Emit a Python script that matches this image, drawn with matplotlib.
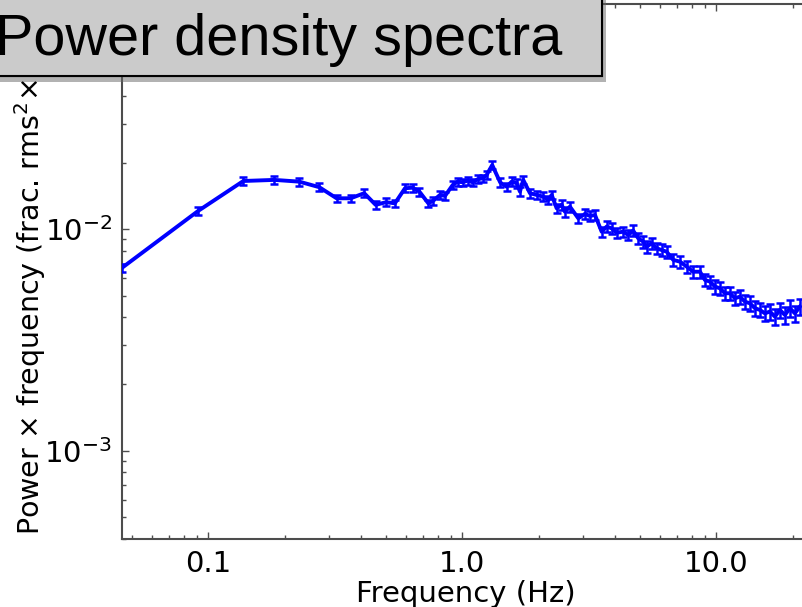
import numpy as np
import matplotlib
matplotlib.use("Agg")
import matplotlib.pyplot as plt
import matplotlib.patheffects as pe
from matplotlib.patches import Rectangle
from matplotlib.ticker import FixedLocator, FormatStrFormatter, NullFormatter

plt.rcParams["font.family"] = ["DejaVu Sans"]
plt.rcParams["axes.unicode_minus"] = False

# ====================== data ======================
freq = [0.0456, 0.0913, 0.1374, 0.182, 0.228, 0.2735, 0.320, 0.3636, 0.411, 0.456,
        0.501, 0.543, 0.595, 0.638, 0.678, 0.735, 0.769, 0.817, 0.855, 0.917,
        0.959, 1.004, 1.050, 1.099, 1.150, 1.203, 1.247, 1.312, 1.411, 1.496,
        1.565, 1.637, 1.687, 1.738, 1.847, 1.963, 2.084, 2.182, 2.249, 2.353,
        2.462, 2.536, 2.654, 2.862, 3.041, 3.184, 3.331, 3.539, 3.703, 3.874,
        4.055, 4.305, 4.504, 4.71, 4.93, 5.16, 5.32, 5.57, 5.82, 6.09,
        6.38, 6.77, 7.20, 7.65, 8.11, 8.63, 9.03, 9.45, 9.89, 10.34,
        10.82, 11.32, 11.85, 12.40, 12.97, 13.57, 14.20, 14.86, 15.55, 16.27,
        17.02, 17.81, 18.64, 19.50, 20.40, 21.35]

power = [0.00668, 0.01211, 0.01652, 0.01671, 0.01641, 0.01549, 0.01380, 0.01380, 0.01455, 0.01289,
         0.01325, 0.01310, 0.01532, 0.01541, 0.01479, 0.01310, 0.01346, 0.01429, 0.01414, 0.01585,
         0.01641, 0.01630, 0.01659, 0.01630, 0.01683, 0.01699, 0.01758, 0.01950, 0.01626, 0.01556,
         0.01641, 0.01615, 0.01479, 0.01671, 0.01455, 0.01429, 0.01404, 0.01355, 0.01429, 0.01244,
         0.01289, 0.01200, 0.01265, 0.01121, 0.01173, 0.01148, 0.01160, 0.00975, 0.01028, 0.01010,
         0.00965, 0.00975, 0.00942, 0.00986, 0.00910, 0.00879, 0.00834, 0.00865, 0.00821, 0.00806,
         0.00792, 0.00727, 0.00714, 0.00678, 0.00643, 0.00643, 0.00590, 0.00580, 0.00551, 0.00541,
         0.00514, 0.00514, 0.00488, 0.00496, 0.00471, 0.00463, 0.00440, 0.00432, 0.00417, 0.00425,
         0.00403, 0.00432, 0.00410, 0.00440, 0.00417, 0.00447]

# relative 1-sigma errors
err_frac = [0.04, 0.04, 0.04, 0.04, 0.04, 0.04, 0.04, 0.04, 0.04, 0.04,
            0.04, 0.04, 0.04, 0.04, 0.04, 0.04, 0.04, 0.04, 0.04, 0.04,
            0.04, 0.04, 0.04, 0.04, 0.04, 0.04, 0.04, 0.045, 0.045, 0.045,
            0.045, 0.045, 0.045, 0.045, 0.045, 0.045, 0.045, 0.045, 0.045, 0.045,
            0.05, 0.05, 0.05, 0.05, 0.05, 0.05, 0.05, 0.055, 0.055, 0.055,
            0.055, 0.055, 0.055, 0.055, 0.055, 0.06, 0.06, 0.06, 0.06, 0.06,
            0.06, 0.065, 0.065, 0.065, 0.065, 0.065, 0.065, 0.065, 0.07, 0.07,
            0.07, 0.07, 0.07, 0.075, 0.075, 0.075, 0.075, 0.075, 0.08, 0.08,
            0.08, 0.08, 0.085, 0.085, 0.085, 0.085]

x_ticks = [0.1, 1.0, 10.0]
y_ticks = [1e-3, 1e-2]
title_text = "Power density spectra"
xlabel_text = "Frequency (Hz)"
ylabel_text = r"Power $\times$ frequency (frac. rms$^2$$\times$ Hz)"

# ====================== figure ======================
W, H = 802, 607
fig = plt.figure(figsize=(W / 100, H / 100), dpi=100)
ax = fig.add_axes([121.7 / W, 1 - 539 / H, 688.3 / W, 535 / H])

f = np.array(freq)
p = np.array(power)
ax.errorbar(f, p, yerr=p * np.array(err_frac), color="blue", lw=2.8,
            elinewidth=1.8, capsize=2.6, capthick=1.8, zorder=3)

ax.set_xscale("log")
ax.set_yscale("log")
ax.set_xlim(0.0456, 23.4)
ax.set_ylim(3.99e-4, 0.1041)

ax.xaxis.set_major_locator(FixedLocator(x_ticks))
ax.xaxis.set_major_formatter(FormatStrFormatter("%.1f"))
ax.xaxis.set_minor_formatter(NullFormatter())
ax.yaxis.set_major_locator(FixedLocator(y_ticks))
ax.yaxis.set_minor_formatter(NullFormatter())

for s in ax.spines.values():
    s.set_color("0.3")
    s.set_linewidth(1.5)
ax.tick_params(which="both", direction="in", top=True, right=True, colors="0.3",
               labelcolor="black", labelsize=21)
ax.tick_params(axis="y", pad=7)
ax.tick_params(axis="x", pad=8)
ax.tick_params(which="major", length=5, width=1)
ax.tick_params(which="minor", length=3, width=1)

ax.set_xlabel(xlabel_text, fontsize=21, labelpad=1)
fig.text(30 / W, 1 - 535 / H, ylabel_text, rotation=90, ha="center", va="bottom",
         fontsize=20.5)

# title box drawn over everything
box = Rectangle((-10 / W, 1 - 76 / H), 612 / W, 90 / H, transform=fig.transFigure,
                facecolor="#cbcbcb", edgecolor="black", lw=1.5, zorder=10)
box.set_path_effects([pe.withSimplePatchShadow(offset=(3, -4), shadow_rgbFace="0.4", alpha=0.5),
                      pe.Normal()])
fig.patches.append(box)
fig.text(-5 / W, 1 - 55 / H, title_text, ha="left", va="baseline", fontsize=41.5,
         family=["Liberation Sans", "DejaVu Sans"], zorder=11)

fig.savefig("out.png", dpi=100)
